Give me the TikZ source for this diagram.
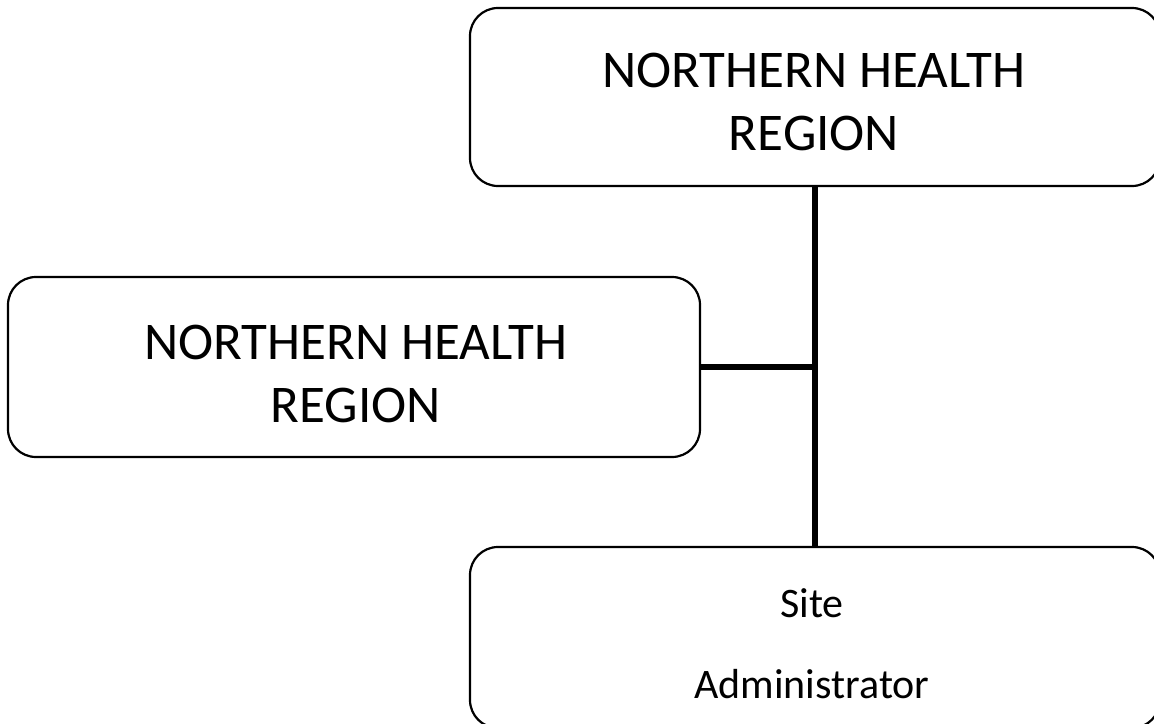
\documentclass[tikz,border=0pt]{standalone}
\usepackage{fontspec}
\setmainfont{Carlito}
\begin{document}
\begin{tikzpicture}[x=1pt,y=-1pt,
  box/.style={draw=black, line width=2.2pt, rounded corners=28pt, fill=white, inner sep=0pt},
  bigtxt/.style={font=\fontsize{53}{63}\selectfont, align=center, inner sep=0pt, anchor=base},
  smalltxt/.style={font=\fontsize{42}{81}\selectfont, align=center, inner sep=0pt, anchor=base},
  link/.style={draw=black, line width=5.5pt}]
\useasboundingbox (0,0) rectangle (1154,723);
\begin{scope}
\clip (0,0) rectangle (1154,723);
\node[box, minimum width=690pt, minimum height=178pt] (b1) at (815,97) {};
\node[box, minimum width=692pt, minimum height=180pt] (b2) at (354,367) {};
\node[box, minimum width=690pt, minimum height=181pt] (b3) at (815,637.5) {};
\node[bigtxt] (t1) at (814,150) {NORTHERN HEALTH\\REGION};
\node[bigtxt] (t2) at (356,422) {NORTHERN HEALTH\\REGION};
\node[smalltxt] (t3) at (812,698) {Site\\Administrator};
\draw[link] (b1.south) -- (b3.north);
\draw[link] (b2.east) -- (b2.east -| b1.south);
\end{scope}
\end{tikzpicture}
\end{document}
